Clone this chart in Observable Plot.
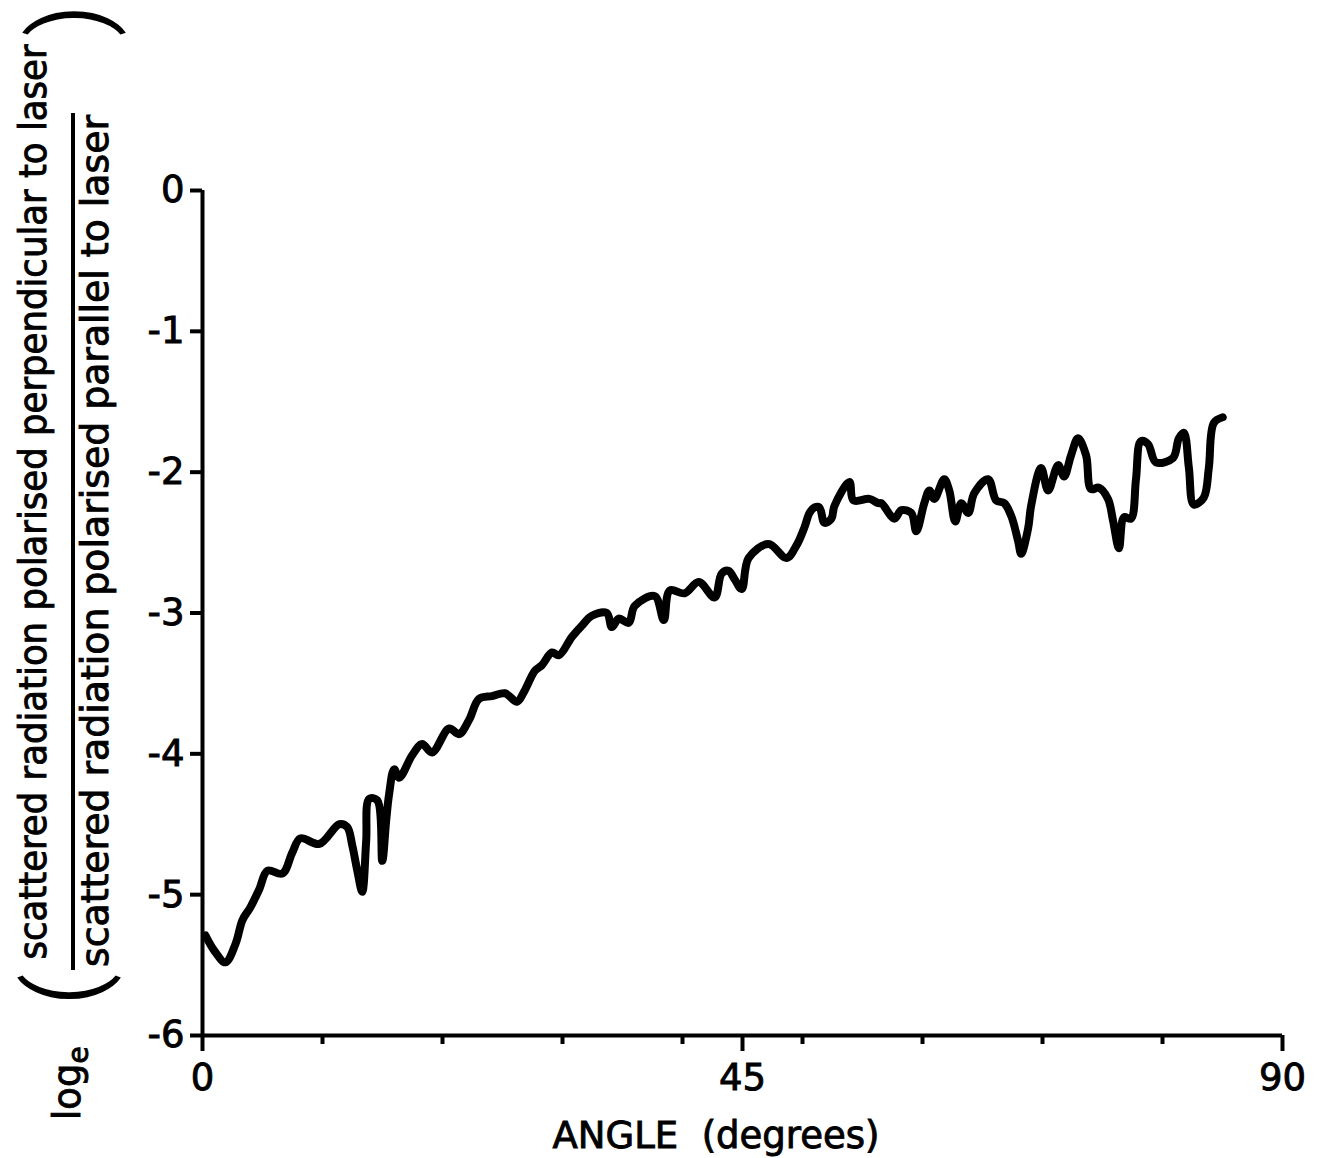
<!DOCTYPE html>
<html>
<head>
<meta charset="utf-8">
<script src="https://cdn.jsdelivr.net/npm/d3@7"></script>
<script src="https://cdn.jsdelivr.net/npm/@observablehq/plot@0.6"></script>
<style>
  html, body { margin: 0; padding: 0; background: #fff; }
  #chart svg { display: block; }
  #chart svg text { stroke: #000; stroke-width: 0.9px; paint-order: stroke; }
</style>
</head>
<body>
<div id="chart"></div>
<script>
// Angle (degrees)
const angle = [0.25, 1.00, 1.91, 2.75, 3.33, 3.99, 4.74, 5.41, 6.66, 7.49, 8.15, 9.73, 11.40, 12.06, 12.48, 12.90, 13.31, 13.64, 13.89, 14.56,
  14.98, 15.31, 15.56, 15.97, 16.39, 17.47, 18.30, 19.13, 20.55, 21.38, 22.21, 23.04, 24.13, 25.21, 26.21, 26.79, 27.70, 28.29, 29.12, 29.70,
  30.78, 31.61, 32.45, 33.69, 34.11, 34.69, 35.52, 36.02, 37.69, 38.44, 38.94, 40.18, 41.35, 42.68, 43.26, 43.84, 44.34, 44.93, 45.51, 47.17,
  48.67, 49.50, 50.17, 50.58, 51.00, 51.41, 51.83, 52.41, 52.66, 53.91, 54.24, 55.57, 56.32, 56.57, 57.65, 58.24, 59.07, 59.48, 60.15, 60.57,
  60.98, 61.81, 62.23, 62.73, 63.23, 63.81, 64.31, 65.47, 66.14, 66.81, 67.39, 67.97, 68.22, 68.80, 69.05, 69.88, 70.47, 71.30, 71.80, 72.38,
  72.96, 73.63, 74.04, 74.71, 75.46, 75.87, 76.37, 76.79, 77.37, 77.79, 78.20, 78.79, 79.45, 80.87, 81.36, 81.78, 82.20, 82.61, 83.44, 83.86,
  84.28, 85.02];
// log_e(perpendicular / parallel)
const logRatio = [-5.29, -5.40, -5.48, -5.35, -5.18, -5.09, -4.96, -4.83, -4.85, -4.70, -4.60, -4.64, -4.50, -4.52, -4.65, -4.83, -4.98, -4.62, -4.32, -4.33,
  -4.76, -4.47, -4.28, -4.11, -4.17, -4.01, -3.93, -3.99, -3.82, -3.86, -3.76, -3.61, -3.59, -3.57, -3.63, -3.56, -3.41, -3.37, -3.28, -3.30,
  -3.17, -3.09, -3.02, -3.00, -3.10, -3.04, -3.07, -2.95, -2.88, -3.05, -2.84, -2.86, -2.78, -2.89, -2.72, -2.70, -2.76, -2.83, -2.61, -2.51,
  -2.61, -2.52, -2.39, -2.29, -2.25, -2.25, -2.36, -2.33, -2.24, -2.07, -2.20, -2.19, -2.22, -2.22, -2.33, -2.27, -2.29, -2.42, -2.22, -2.13,
  -2.19, -2.05, -2.13, -2.35, -2.22, -2.29, -2.15, -2.05, -2.20, -2.22, -2.31, -2.49, -2.58, -2.40, -2.24, -1.97, -2.13, -1.95, -2.03, -1.88,
  -1.76, -1.88, -2.12, -2.11, -2.19, -2.34, -2.54, -2.32, -2.33, -2.05, -1.78, -1.80, -1.93, -1.90, -1.76, -1.72, -1.97, -2.23, -2.18, -1.97,
  -1.65, -1.61];

const xMinorTicks = [10, 20, 30, 40, 50, 60, 70, 80];
const xMajorTicks = [0, 45, 90];
const yTicks = [0, -1, -2, -3, -4, -5, -6];

const xLabel = "ANGLE  (degrees)";
const yNumerator = "scattered radiation polarised perpendicular to laser";
const yDenominator = "scattered radiation polarised parallel to laser";

const data = angle.map((a, i) => ({angle: a, value: logRatio[i]}));

const chart = Plot.plot({
  width: 1317,
  height: 1158,
  marginLeft: 202,
  marginRight: 35,
  marginTop: 190,
  marginBottom: 123,
  x: {domain: [0, 90]},
  y: {domain: [-6, 0]},
  style: {fontFamily: "DejaVu Sans", background: "#fff", color: "#000"},
  marks: [
    Plot.axisY({ticks: yTicks, tickSize: 12, tickPadding: 6, fontSize: 37, strokeWidth: 4, tickFormat: d => String(d), label: null}),
    Plot.axisX({ticks: xMinorTicks, tickSize: 9, strokeWidth: 4, tickFormat: () => "", label: null}),
    Plot.axisX({ticks: xMajorTicks, tickSize: 16, tickPadding: 12, fontSize: 37, strokeWidth: 4, tickFormat: d => String(d), label: null}),
    Plot.ruleX([0], {strokeWidth: 4}),
    Plot.ruleY([-6], {strokeWidth: 4}),
    Plot.line(data, {x: "angle", y: "value", stroke: "#000", strokeWidth: 8, curve: "catmull-rom", strokeLinejoin: "round", strokeLinecap: "round"})
  ]
});

document.getElementById("chart").appendChild(chart);

// Axis titles
const svg = d3.select(chart);
const g = svg.append("g").attr("font-family", "DejaVu Sans").attr("fill", "#000");

g.append("text")
  .attr("x", 716).attr("y", 1148)
  .attr("text-anchor", "middle")
  .attr("font-size", 37)
  .attr("textLength", 327).attr("lengthAdjust", "spacingAndGlyphs")
  .style("white-space", "pre")
  .text(xLabel);

function vtext(str, x, y, size, len) {
  return g.append("text")
    .attr("transform", `translate(${x},${y}) rotate(-90)`)
    .attr("text-anchor", "middle")
    .attr("font-size", size)
    .attr("textLength", len).attr("lengthAdjust", "spacingAndGlyphs")
    .text(str);
}
vtext(yNumerator, 46, 502, 37, 915);
vtext(yDenominator, 108, 541, 37, 852);

// fraction bar
g.append("line").attr("x1", 73).attr("x2", 73).attr("y1", 113).attr("y2", 970)
  .attr("stroke", "#000").attr("stroke-width", 4);

// log_e
const logT = g.append("text")
  .attr("transform", "translate(80,1120) rotate(-90)")
  .attr("text-anchor", "start")
  .attr("font-size", 37);
logT.append("tspan").text("log");
logT.append("tspan").attr("dy", 8).attr("font-size", 28).text("e");

// big parentheses
g.append("text")
  .attr("transform", "translate(63,990) rotate(-90) scale(0.95,1)")
  .attr("text-anchor", "middle").attr("dominant-baseline", "central")
  .attr("font-family", "Roboto").attr("font-weight", 300)
  .attr("font-size", 98)
  .style("stroke-width", "1.6px")
  .text("(");
g.append("text")
  .attr("transform", "translate(68,20) rotate(-90) scale(0.95,1)")
  .attr("text-anchor", "middle").attr("dominant-baseline", "central")
  .attr("font-family", "Roboto").attr("font-weight", 300)
  .attr("font-size", 98)
  .style("stroke-width", "1.6px")
  .text(")");
</script>
</body>
</html>
